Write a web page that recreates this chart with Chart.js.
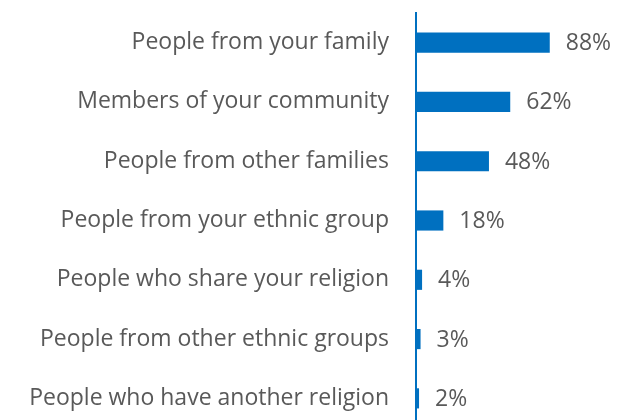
<!DOCTYPE html>
<html>
<head>
<meta charset="utf-8">
<script src="https://cdn.jsdelivr.net/npm/chart.js@4/dist/chart.umd.min.js"></script>
<style>
  html, body { margin: 0; padding: 0; background: #fff; overflow: hidden; }
  canvas { display: block; }
</style>
</head>
<body>
<canvas id="c" width="617" height="430"></canvas>
<script>
const categories = [
  'People from your family',
  'Members of your community',
  'People from other families',
  'People from your ethnic group',
  'People who share your religion',
  'People from other ethnic groups',
  'People who have another religion'
];
const shares = [88, 62, 48, 18, 4, 3, 2];
const valueLabels = ['88%', '62%', '48%', '18%', '4%', '3%', '2%'];

const BLUE = '#0070C0';
const TEXT = '#595959';
const FONT = "'Open Sans', 'Noto Sans', sans-serif";
const FONT_SIZE = 23;

// Writes each bar's percentage just past its end
const valueLabelPlugin = {
  id: 'valueLabels',
  afterDatasetsDraw(chart) {
    const ctx = chart.ctx;
    const meta = chart.getDatasetMeta(0);
    ctx.save();
    ctx.font = FONT_SIZE + 'px ' + FONT;
    ctx.fillStyle = TEXT;
    ctx.textAlign = 'left';
    ctx.textBaseline = 'middle';
    meta.data.forEach((bar, i) => {
      ctx.fillText(valueLabels[i], bar.x + 16, bar.y + 1);
    });
    ctx.restore();
  }
};

new Chart(document.getElementById('c'), {
  type: 'bar',
  data: {
    labels: categories,
    datasets: [{
      data: shares,
      backgroundColor: BLUE,
      borderWidth: 0,
      categoryPercentage: 1,
      barPercentage: 0.34
    }]
  },
  options: {
    indexAxis: 'y',
    responsive: false,
    animation: false,
    layout: { padding: { top: 13, bottom: 2, left: 0, right: 49 } },
    plugins: { legend: { display: false }, tooltip: { enabled: false } },
    scales: {
      x: { display: false, min: 0, max: 100 },
      y: {
        afterFit(scale) {
          scale.width = 416;
          scale.paddingTop = 0;
          scale.paddingBottom = 0;
        },
        grid: { display: false, drawTicks: false },
        border: { display: true, color: BLUE, width: 2 },
        ticks: {
          padding: 27,
          color: TEXT,
          font: { family: FONT, size: FONT_SIZE }
        }
      }
    }
  },
  plugins: [valueLabelPlugin]
});
</script>
</body>
</html>
